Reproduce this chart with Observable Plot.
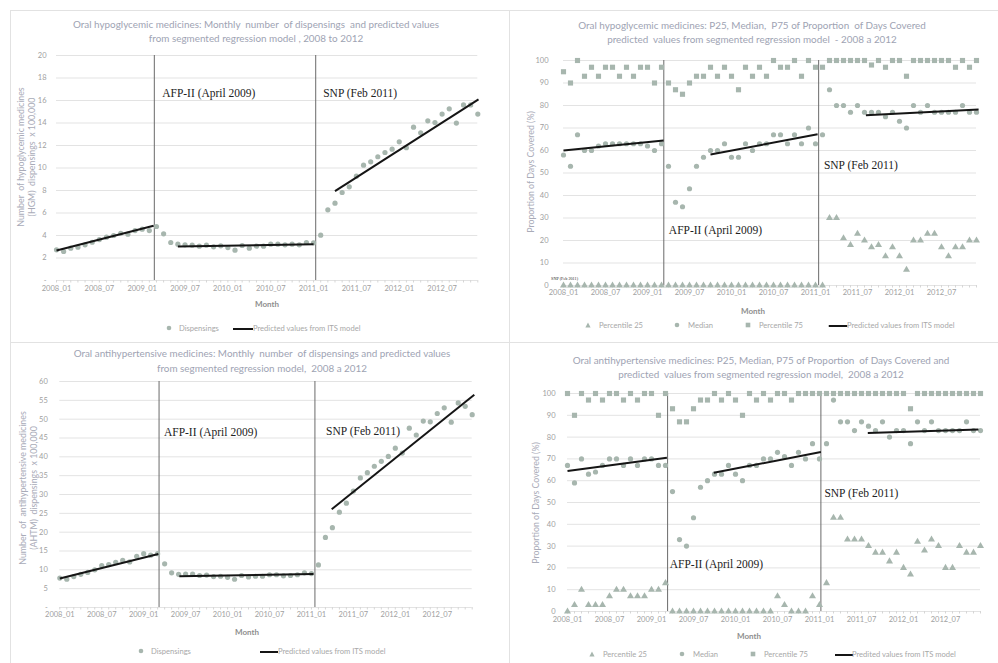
<!DOCTYPE html>
<html><head><meta charset="utf-8">
<script src="https://cdn.jsdelivr.net/npm/d3@7"></script>
<script src="https://cdn.jsdelivr.net/npm/@observablehq/plot@0.6"></script>
<style>
body{margin:0;background:#fff;font-family:Lato,"Open Sans",sans-serif;}
#page{position:relative;width:998px;height:663px;overflow:hidden;background:#fff;}
.title{position:absolute;color:#9ea3b3;font-size:9.9px;text-align:center;line-height:14px;white-space:nowrap;transform:translateX(-50%);}
.ylab{position:absolute;color:#a9abb8;font-size:8.8px;line-height:10.5px;text-align:center;white-space:nowrap;transform:translate(-50%,-50%) rotate(-90deg);}
.month{position:absolute;font-weight:bold;color:#8e8e8e;font-size:8px;transform:translate(-50%,-50%);}
.leg{position:absolute;font-size:7.6px;color:#a8a8a8;white-space:nowrap;transform:translateY(-50%);}
.sym{position:absolute;transform:translate(-50%,-50%);}
.frame{position:absolute;background:#e2e2e2;}
svg{position:absolute;}
</style>
</head><body><div id="page"></div>
<script>
// ---------- data ----------
const tickIndex = [0,6,12,18,24,30,36,42,48,54];
const tickLabels = ["2008_01","2008_07","2009_01","2009_07","2010_01","2010_07","2011_01","2011_07","2012_01","2012_07"];

const hgmDisp = [2.73,2.58,2.87,2.96,3.17,3.4,3.64,3.85,4.0,4.2,4.12,4.44,4.56,4.44,4.8,4.15,3.38,3.23,3.17,3.14,3.05,3.14,2.99,3.08,2.93,2.7,3.11,2.87,3.05,3.05,3.23,3.23,3.17,3.23,3.17,3.38,3.35,4.03,6.28,6.87,7.82,8.33,9.27,10.25,10.55,11.0,11.38,11.67,12.33,11.8,13.63,13.13,14.19,14.04,14.79,15.26,13.99,15.61,15.61,14.79];
const hgmDispFit = [[0,2.67,13.6,4.86],[17,3.02,36,3.23],[39,7.94,59.1,16.1]];
const hgmDispBreaks = [13.7,36.3];

const hgmP25 = [0,0,0,0,0,0,0,0,0,0,0,0,0,0,0,0,0,0,0,0,0,0,0,0,0,0,0,0,0,0,0,0,0,0,0,0,0,0,30,30,21,18,23,20,17,18,13,17,13,7,20,20,23,23,17,13,17,17,20,20];
const hgmMedian = [58,53,67,60,60,62,63,63,63,63,63,63,62,60,63,53,37,35,43,53,57,60,60,63,57,57,63,60,63,63,67,67,63,67,63,70,63,67,87,80,80,77,80,77,77,77,75,77,73,70,80,77,80,77,77,77,77,80,77,77];
const hgmP75 = [95,90,100,93,97,93,97,97,93,97,93,97,97,90,97,90,87,85,90,93,93,97,93,97,93,87,97,93,97,93,100,97,97,100,93,100,97,97,100,100,100,100,100,100,98,100,97,100,100,93,100,100,100,100,100,100,97,100,97,100];
const hgmPdcFit = [[0,60,14.3,64.4],[21,58.2,36.3,67.2],[43.2,75.7,59.3,78.2]];
const hgmPdcBreaks = [14.33,36.45];

const ahtmDisp = [7.8,7.5,8.2,8.8,9.3,10.0,11.1,11.4,12.0,12.5,12.1,13.6,14.3,13.9,14.3,11.6,9.2,8.8,8.9,8.9,8.5,8.6,8.2,8.3,8.0,7.5,8.5,8.1,8.3,8.3,8.7,8.7,8.4,8.5,8.7,9.2,9.0,11.3,18.6,21.2,25.3,27.7,30.9,34.4,35.8,37.5,38.8,40.1,42.3,41.0,47.6,45.8,49.5,49.3,51.5,53.0,49.2,54.3,53.4,51.2];
const ahtmDispFit = [[0,7.7,14.1,14.2],[17.1,8.3,36.3,8.9],[38.9,26.1,59.3,56.5]];
const ahtmDispBreaks = [14.2,36.5];

const ahtmP25 = [0,3,10,3,3,3,7,10,10,7,7,7,10,10,13,0,0,0,0,0,0,0,0,0,0,0,0,0,0,0,7,3,0,0,0,7,3,13,43,43,33,33,33,30,27,27,23,27,20,17,32,28,33,30,20,20,30,27,27,30];
const ahtmMedian = [67,59,70,63,64,67,70,70,67,70,67,70,70,67,67,55,33,30,43,57,60,63,63,67,63,60,67,67,70,70,73,71,67,73,70,77,70,77,97,87,87,83,87,85,83,87,80,83,83,77,87,83,87,83,83,83,83,87,83,83];
const ahtmP75 = [100,90,100,97,100,97,100,100,97,100,97,100,100,90,100,93,87,87,93,97,97,100,97,100,97,90,100,97,100,97,100,100,97,100,100,100,100,100,100,100,100,100,100,100,100,100,100,100,100,93,100,100,100,100,100,100,100,100,100,100];
const ahtmPdcFit = [[0,64.5,14.2,70.5],[20.9,63.6,36.2,73.2],[42.9,81.9,58.7,83.5]];
const ahtmPdcBreaks = [14.3,36.2];

const annHgmDisp = [{x:14.8,y:16.6,t:"AFP-II (April 2009)"},{x:37.35,y:16.65,t:"SNP (Feb 2011)"}];
const annHgmPdc = [{x:15.05,y:24.7,t:"AFP-II (April 2009)"},{x:37.2,y:53.3,t:"SNP (Feb 2011)"}];
const annAhtmDisp = [{x:14.9,y:46.5,t:"AFP-II (April 2009)"},{x:38.1,y:46.7,t:"SNP (Feb 2011)"}];
const annAhtmPdc = [{x:14.6,y:21.5,t:"AFP-II (April 2009)"},{x:36.7,y:54,t:"SNP (Feb 2011)"}];

// ---------- drawing ----------
const page = document.getElementById("page");
const MC = "#a7b6ae";
const months = d3.range(60);

function div(cls, html, style){
  const e = document.createElement("div");
  e.className = cls; e.innerHTML = html;
  Object.assign(e.style, style);
  page.appendChild(e);
  return e;
}

function panel(cfg){
  const {left, top, width, height, xl, xr, yt, yb, ydom, yticks, zeroDash, ypad, xpad} = cfg;
  const marks = [
    Plot.gridY(yticks, {stroke:"#e3e3e3", strokeOpacity:1}),
    Plot.axisX(months, {tickSize:2.5, tickFormat:()=>"", stroke:"#d6d6d6", label:null}),
    Plot.axisX(tickIndex, {tickSize:0, tickPadding:xpad, tickFormat:d=>tickLabels[tickIndex.indexOf(d)], fill:"#a0a0a0", fontSize:7.5, label:null}),
    Plot.axisY(yticks, {tickSize:0, tickPadding:ypad, tickFormat:d => (d===0 && zeroDash) ? "-" : String(d), fill:"#a0a0a0", fontSize:7.5, label:null}),
    Plot.ruleX(cfg.breaks, {x:d=>d, stroke:"#6a6a6a", strokeWidth:1})
  ];
  for (const s of cfg.series){
    marks.push(Plot.dot(months, {x:i=>i, y:i=>s.values[i], symbol:s.symbol, r:s.r, fill:MC, stroke:"none"}));
  }
  marks.push(Plot.link(cfg.fit, {x1:d=>d[0], y1:d=>d[1], x2:d=>d[2], y2:d=>d[3], stroke:"#151515", strokeWidth:2}));
  marks.push(Plot.text(cfg.ann, {x:"x", y:"y", text:"t", textAnchor:"start", fontFamily:"Liberation Serif, serif", fontSize:11.5, fill:"#222"}));
  if (cfg.extra) marks.push(cfg.extra);
  const svg = Plot.plot({
    width, height,
    marginLeft: xl-left, marginRight: left+width-xr,
    marginTop: yt-top, marginBottom: top+height-yb,
    x:{domain:[0,59], axis:null},
    y:{domain:ydom, axis:null},
    style:{fontFamily:"Lato, sans-serif", fontSize:"7.5px", background:"transparent", overflow:"visible"},
    marks
  });
  svg.style.left = left+"px"; svg.style.top = top+"px";
  page.appendChild(svg);

  div("title", cfg.title[0], {left:cfg.tx+"px", top:(cfg.ty1-7)+"px"});
  div("title", cfg.title[1], {left:cfg.tx+"px", top:(cfg.ty2-7)+"px"});
  div("ylab", cfg.ylab, {left:cfg.ylx+"px", top:cfg.yly+"px"});
  div("month", "Month", {left:cfg.mx+"px", top:cfg.my+"px"});
  for (const it of cfg.legend){
    let sym = "";
    if (it.type==="dot") sym = `<svg width="6" height="6" style="position:static"><circle cx="3" cy="3" r="2.3" fill="${MC}"/></svg>`;
    if (it.type==="sq") sym = `<svg width="6" height="6" style="position:static"><rect x="0.7" y="0.7" width="4.6" height="4.6" fill="${MC}"/></svg>`;
    if (it.type==="tri") sym = `<svg width="6" height="6" style="position:static"><path d="M3,0.6L5.6,5.4L0.4,5.4Z" fill="${MC}"/></svg>`;
    if (it.type==="line") sym = `<svg width="${it.w}" height="4" style="position:static"><line x1="0" y1="2" x2="${it.w}" y2="2" stroke="#151515" stroke-width="2"/></svg>`;
    div("sym", sym, {left:it.sx+"px", top:cfg.ly+"px", lineHeight:"0"});
    div("leg", it.label, {left:it.tx+"px", top:cfg.ly+"px"});
  }
}

// frames
div("frame","",{left:"10px",top:"10px",width:"988px",height:"1px"});
div("frame","",{left:"10px",top:"10px",width:"1px",height:"653px"});
div("frame","",{left:"509px",top:"10px",width:"1px",height:"653px"});
div("frame","",{left:"10px",top:"342px",width:"988px",height:"1px"});

panel({
  left:0, top:45, width:497, height:275, xl:56, xr:477.3, yt:55, yb:280,
  ydom:[0,20], yticks:d3.range(0,21,2), zeroDash:true, ypad:10, xpad:5.5,
  breaks:hgmDispBreaks, fit:hgmDispFit, ann:annHgmDisp,
  series:[{values:hgmDisp, symbol:"circle", r:2.6}],
  title:["Oral hypoglycemic medicines: Monthly&nbsp; number&nbsp; of dispensings&nbsp; and predicted values","from segmented regression model , 2008 to 2012"],
  tx:256, ty1:24, ty2:38,
  ylab:"Number&nbsp; of hypoglycemic medicines<br>(HGM)&nbsp; dispensings&nbsp; x 100,000", ylx:26, yly:157,
  mx:267, my:304, ly:328,
  legend:[{type:"dot", sx:169, tx:179, label:"Dispensings"},{type:"line", w:20, sx:243, tx:253, label:"Predicted values from ITS model"}]
});

panel({
  left:498, top:45, width:500, height:275, xl:563, xr:976, yt:60, yb:285,
  ydom:[0,100], yticks:d3.range(0,101,10), zeroDash:false, ypad:15, xpad:4.5,
  breaks:hgmPdcBreaks, fit:hgmPdcFit, ann:annHgmPdc,
  series:[{values:hgmP75, symbol:"square", r:2.9},{values:hgmMedian, symbol:"circle", r:2.6},{values:hgmP25, symbol:"triangle", r:2.6}],
  extra: Plot.text([{x:-1.77, y:3.2, t:"SNP (Feb 2011)"}], {x:"x", y:"y", text:"t", textAnchor:"start", fontFamily:"Liberation Serif, serif", fontSize:4.2, fill:"#222"}),
  title:["Oral hypoglycemic medicines: P25, Median,&nbsp; P75 of Proportion&nbsp; of Days Covered","predicted&nbsp; values from segmented regression model&nbsp; - 2008 a 2012"],
  tx:752, ty1:25, ty2:39,
  ylab:"Proportion of Days Covered (%)", ylx:531, yly:172,
  mx:753, my:311, ly:325,
  legend:[{type:"tri", sx:588, tx:599, label:"Percentile 25"},{type:"dot", sx:677, tx:688, label:"Median"},{type:"sq", sx:748, tx:759, label:"Percentile 75"},{type:"line", w:19, sx:837.5, tx:847, label:"Predicted values from ITS model"}]
});

panel({
  left:0, top:370, width:497, height:260, xl:59.3, xr:471.7, yt:381, yb:607,
  ydom:[0,60], yticks:d3.range(0,61,5), zeroDash:true, ypad:12, xpad:4.5,
  breaks:ahtmDispBreaks, fit:ahtmDispFit, ann:annAhtmDisp,
  series:[{values:ahtmDisp, symbol:"circle", r:2.6}],
  title:["Oral antihypertensive medicines: Monthly&nbsp; number&nbsp; of dispensings and predicted values","from segmented regression model,&nbsp; 2008 a 2012"],
  tx:262, ty1:353, ty2:368,
  ylab:"Number&nbsp; of&nbsp; antihypertensive medicines<br>(AHTM)&nbsp; dispensings&nbsp; x 100,000", ylx:27.5, yly:488,
  mx:247, my:632, ly:651,
  legend:[{type:"dot", sx:141, tx:151, label:"Dispensings"},{type:"line", w:18, sx:269, tx:278, label:"Predicted values from ITS model"}]
});

panel({
  left:498, top:370, width:500, height:260, xl:567, xr:980, yt:393, yb:611,
  ydom:[0,100], yticks:d3.range(0,101,10), zeroDash:false, ypad:12, xpad:5.5,
  breaks:ahtmPdcBreaks, fit:ahtmPdcFit, ann:annAhtmPdc,
  series:[{values:ahtmP75, symbol:"square", r:2.9},{values:ahtmMedian, symbol:"circle", r:2.6},{values:ahtmP25, symbol:"triangle", r:2.6}],
  title:["Oral antihypertensive medicines: P25, Median, P75 of Proportion&nbsp; of Days Covered and","predicted&nbsp; values from segmented regression model,&nbsp; 2008 a 2012"],
  tx:761, ty1:360, ty2:374,
  ylab:"Proportion of Days Covered (%)", ylx:536, yly:503,
  mx:749, my:636, ly:654,
  legend:[{type:"tri", sx:592, tx:603, label:"Percentile 25"},{type:"dot", sx:682, tx:693, label:"Median"},{type:"sq", sx:753, tx:764, label:"Percentile 75"},{type:"line", w:18, sx:843.5, tx:852, label:"Predited values from ITS model"}]
});
</script>
</body></html>
